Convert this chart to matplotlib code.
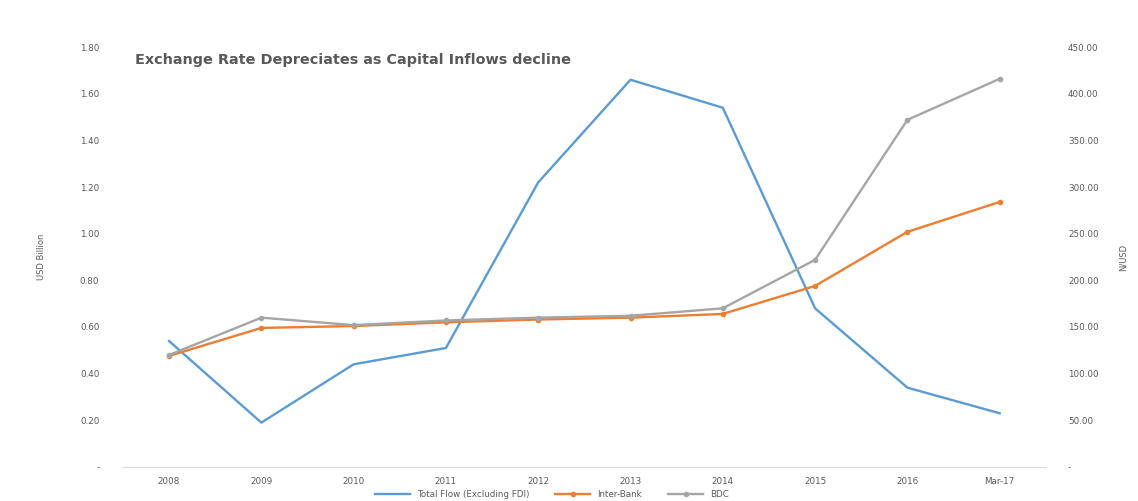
import matplotlib
matplotlib.use("Agg")
import matplotlib.pyplot as plt
from matplotlib.ticker import FuncFormatter

# data
years = ["2008", "2009", "2010", "2011", "2012", "2013", "2014", "2015", "2016", "Mar-17"]
total_flow = [0.54, 0.19, 0.44, 0.51, 1.22, 1.66, 1.54, 0.68, 0.34, 0.23]
inter_bank = [119, 149, 151, 155, 158, 160, 164, 194, 252, 284]
bdc = [120, 160, 152, 157, 160, 162, 170, 222, 372, 416]

blue = "#5B9BD5"
orange = "#ED7D31"
grey = "#A5A5A5"
txt = "#595959"

plt.rcParams["font.family"] = ["DejaVu Sans"]

fig = plt.figure(figsize=(11.38, 5.01), dpi=100)
ax = fig.add_axes([0.108, 0.068, 0.811, 0.838])
ax2 = ax.twinx()

x = list(range(len(years)))
l1, = ax.plot(x, total_flow, color=blue, lw=1.7, label="Total Flow (Excluding FDI)")
l2, = ax2.plot(x, inter_bank, color=orange, lw=1.7, marker="o", ms=3, label="Inter-Bank")
l3, = ax2.plot(x, bdc, color=grey, lw=1.7, marker="o", ms=3, label="BDC")

ax.set_xlim(-0.5, len(years) - 0.5)
ax.set_ylim(0, 1.8)
ax2.set_ylim(0, 450)
ax.set_yticks([i * 0.2 for i in range(10)])
ax2.set_yticks(list(range(0, 451, 50)))
ax.yaxis.set_major_formatter(FuncFormatter(lambda v, p: "-" if abs(v) < 1e-9 else f"{v:.2f}"))
ax2.yaxis.set_major_formatter(FuncFormatter(lambda v, p: "-" if abs(v) < 1e-9 else f"{v:.2f}"))
ax.set_xticks(x)
ax.set_xticklabels(years)

for a in (ax, ax2):
    for s in ("top", "left", "right", "bottom"):
        a.spines[s].set_visible(False)
    a.tick_params(length=0, labelsize=6.3, colors=txt)
ax.spines["bottom"].set_visible(True)
ax.spines["bottom"].set_color("#D9D9D9")
ax.tick_params(axis="y", pad=17)
ax2.tick_params(axis="y", pad=16)
ax.tick_params(axis="x", pad=7)

ax.set_ylabel("USD Billion", fontsize=6, color=txt, labelpad=24)
ax2.set_ylabel("N/USD", fontsize=6, color=txt, labelpad=14)

ax.text(0.013, 0.985, "Exchange Rate Depreciates as Capital Inflows decline",
        transform=ax.transAxes, fontsize=10.4, fontweight="bold", color=txt,
        ha="left", va="top")

fig.legend(handles=[l1, l2, l3], loc="lower center", bbox_to_anchor=(0.485, -0.012),
           ncol=3, frameon=False, fontsize=6.3, labelcolor=txt, handlelength=4,
           columnspacing=3)

fig.savefig("out.png", dpi=100)
